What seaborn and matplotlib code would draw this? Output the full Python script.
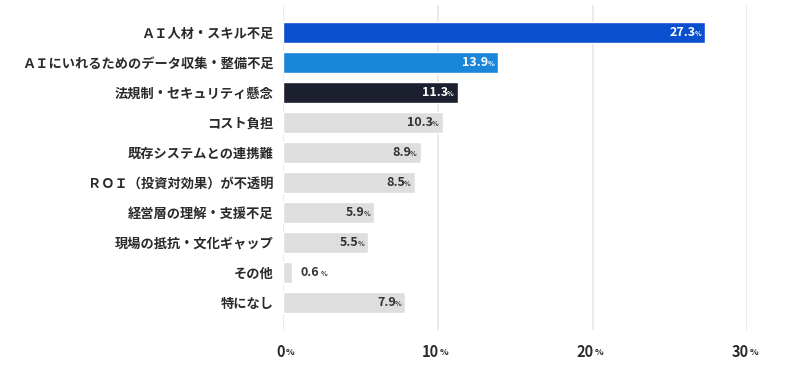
import numpy as np
import pandas as pd
import seaborn as sns
import matplotlib.pyplot as plt

# Dati
categories = [
    "ＡＩ人材・スキル不足",
    "ＡＩにいれるためのデータ収集・整備不足",
    "法規制・セキュリティ懸念",
    "コスト負担",
    "既存システムとの連携難",
    "ＲＯＩ（投資対効果）が不透明",
    "経営層の理解・支援不足",
    "現場の抵抗・文化ギャップ",
    "その他",
    "特になし",
]
values = [27.3, 13.9, 11.3, 10.3, 8.9, 8.5, 5.9, 5.5, 0.6, 7.9]
bar_colors = ["#0a4fce", "#1a86da", "#1b1f2e"] + ["#dedede"] * 7
xticks = [0, 10, 20, 30]

sns.set_theme(style="white")
plt.rcParams['font.family'] = ['Noto Sans CJK JP', 'DejaVu Sans']

df = pd.DataFrame({"cat": categories, "val": values})

fig = plt.figure(figsize=(8, 3.75), dpi=100)
ax = fig.add_axes([0.354, 0.12, 0.58, 0.867])

sns.barplot(data=df, x="val", y="cat", hue="cat", palette=bar_colors,
            legend=False, width=0.7, ax=ax, saturation=1)

ax.set_xlim(0, 30)
ax.set_ylim(9.92, -0.92)
ax.set_xticks(xticks)
ax.set_xticklabels([])
ax.set_xlabel("")
ax.set_ylabel("")
ax.grid(axis='x', color='#e6e6e6', linewidth=1.2)
ax.grid(axis='y', visible=False)
ax.set_axisbelow(True)
for s in ax.spines.values():
    s.set_visible(False)
ax.tick_params(axis='y', length=0, pad=7, labelsize=9.5, labelcolor='#2a2a2a')
for lab in ax.get_yticklabels():
    lab.set_fontweight('bold')
ax.tick_params(axis='x', length=0)

# Etichette asse x con "%" piccolo
for t in xticks:
    ax.annotate(str(t), (t, 0), xycoords=('data', 'axes fraction'),
                xytext=(1, -16), textcoords='offset points', ha='right', va='center',
                fontsize=10.5, fontweight='bold', color='#2a2a2a', annotation_clip=False)
    ax.annotate("%", (t, 0), xycoords=('data', 'axes fraction'),
                xytext=(1.5, -16.5), textcoords='offset points', ha='left', va='center',
                fontsize=6.5, fontweight='bold', color='#2a2a2a', annotation_clip=False)

# Etichette dei valori
for i, v in enumerate(values):
    col = 'white' if i < 3 else '#333333'
    if v < 2:
        x0, off = v, 6
        ax.annotate(f"{v}", (x0, i), xytext=(off, 0), textcoords='offset points',
                    ha='left', va='center', fontsize=9, fontweight='bold', color=col)
        ax.annotate("%", (x0, i), xytext=(off + 14, -0.5), textcoords='offset points',
                    ha='left', va='center', fontsize=5, fontweight='bold', color=col)
    else:
        ax.annotate("%", (v, i), xytext=(-3, -0.5), textcoords='offset points',
                    ha='right', va='center', fontsize=5, fontweight='bold', color=col)
        ax.annotate(f"{v}", (v, i), xytext=(-7, 0), textcoords='offset points',
                    ha='right', va='center', fontsize=9, fontweight='bold', color=col)

fig.savefig("out.png", dpi=100)
